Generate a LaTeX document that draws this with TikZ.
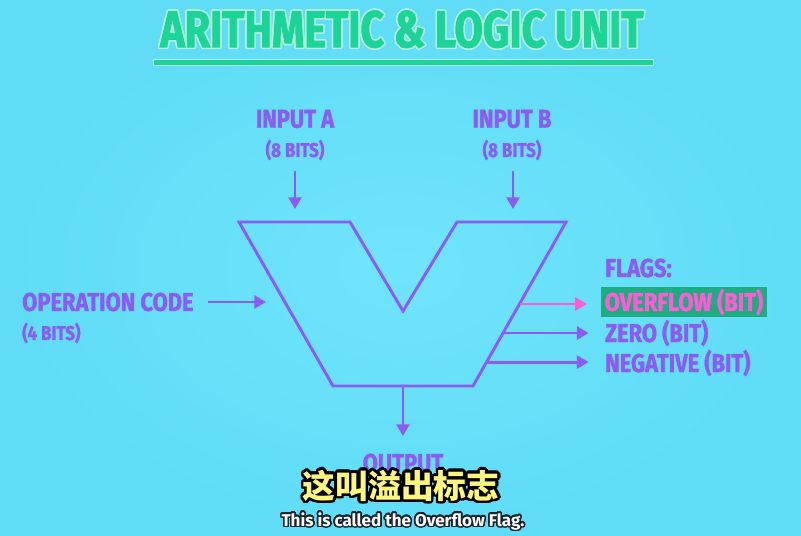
\documentclass[tikz,border=0pt]{standalone}
\usepackage{fontspec}
\setmainfont{Fira Sans}
\newfontfamily\condfont[UprightFont={* Bold}, FakeStretch=0.85, FakeBold=1.3]{Fira Sans}
\newfontfamily\titlefont[UprightFont={* Bold}, FakeStretch=0.80, FakeBold=1.6]{Fira Sans}
\newfontfamily\cjkfont{Noto Sans CJK SC}
\usepackage{xcolor}
\definecolor{sky}{RGB}{96,220,247}
\definecolor{skylight}{RGB}{112,228,252}
\definecolor{violet}{RGB}{140,92,242}
\definecolor{mint}{RGB}{28,212,152}
\definecolor{rose}{RGB}{255,92,212}
\definecolor{jade}{RGB}{30,172,130}
\definecolor{lemon}{RGB}{252,246,128}
\definecolor{ink}{RGB}{22,38,44}
\usepackage[copies]{contour}
\contournumber{24}
\usetikzlibrary{arrows.meta,positioning}
\tikzset{
  %% labels round the unit
  lbl/.style={font=\condfont\fontsize{22}{24}\selectfont,
              text=violet, inner sep=0pt},
  sublbl/.style={font=\condfont\fontsize{17}{19}\selectfont,
                 text=violet, inner sep=0pt},
  %% lines
  wire/.style={draw=violet, line width=2.5pt,
               -{Triangle[length=10pt,width=11pt]}},
  alu/.style={draw=violet, line width=2.5pt, line join=miter},
}
\begin{document}
\begin{tikzpicture}[x=0.03cm,y=-0.03cm]
\useasboundingbox (0,0) rectangle (801,536);
\shade[inner color=skylight, outer color=sky] (0,0) rectangle (801,536);

% title
\node[font=\titlefont\fontsize{44}{46}\selectfont, inner sep=0pt]
  (title) at (402,30) {\contourlength{1.3pt}\contour{white!65!mint}{\textcolor{mint}{ARITHMETIC \& LOGIC UNIT}}};
\fill[mint, draw=white!65!mint, line width=0.8pt] (153,59) rectangle (653,65);

% the unit
\coordinate (tl) at (239,222);
\coordinate (til) at (350,222);
\coordinate (vb) at (403,311);
\coordinate (tir) at (457,222);
\coordinate (tr) at (566,222);
\coordinate (br) at (473,386);
\coordinate (bl) at (333,386);
\draw[alu] (tl) -- (til) -- (vb) -- (tir) -- (tr) -- (br) -- (bl) -- cycle;

% inputs
\node[lbl] (inA) at (295,119) {INPUT A};
\node[sublbl] (subA) at (295,150) {(8 BITS)};
\node[lbl] (inB) at (512,119) {INPUT B};
\node[sublbl] (subB) at (512,150) {(8 BITS)};
\coordinate (aIn) at (295,209);
\coordinate (bIn) at (513,209);
\draw[wire] ([yshift=-9pt]subA.south) -- (aIn);
\draw[wire] ([yshift=-9pt]subB.south -| bIn) -- (bIn);

\node[lbl, anchor=west] (opc) at (22,302) {OPERATION CODE};
\node[sublbl, anchor=west] (opbits) at (22,333) {(4 BITS)};
\coordinate (opIn) at (266,302);
\draw[wire] ([xshift=12pt]opc.east) -- (opIn);

% flags
\node[lbl, anchor=west] (flags) at (605,268) {FLAGS:};
\node[lbl, anchor=west, text=rose, fill=jade, inner xsep=3pt, inner ysep=2pt,
      minimum height=24pt] (ovf) at (601,302) {OVERFLOW (BIT)};
\node[lbl, anchor=west] (zero) at (605,333) {ZERO (BIT)};
\node[lbl, anchor=west] (neg) at (605,363) {NEGATIVE (BIT)};
\path (tr) -- (br) coordinate[pos=0.5] (ovOut)
                   coordinate[pos=0.677] (zeOut)
                   coordinate[pos=0.854] (neOut);
\draw[wire, draw=rose] (ovOut) -- ([xshift=-12pt]ovf.west |- ovOut);
\draw[wire] (zeOut) -- ([xshift=-14pt]zero.west |- zeOut);
\draw[wire] (neOut) -- ([xshift=-14pt]neg.west |- neOut);

% output
\node[lbl] (out) at (403,463) {OUTPUT};
\coordinate (botmid) at (403,386);
\coordinate (outIn) at (403,436);
\draw[wire] (botmid) -- (outIn);

% subtitles
\node[font=\cjkfont\bfseries\fontsize{28}{30}\selectfont, inner sep=0pt]
  (zh) at (401,487) {\contourlength{2.2pt}\contour{black}{\textcolor{lemon}{这叫溢出标志}}};
\node[font=\bfseries\fontsize{14.5}{16}\selectfont, inner sep=0pt]
  (en) at (403,522) {\contourlength{1.3pt}\contour{ink}{\textcolor{white}{This is called the Overflow Flag.}}};
\end{tikzpicture}
\end{document}
